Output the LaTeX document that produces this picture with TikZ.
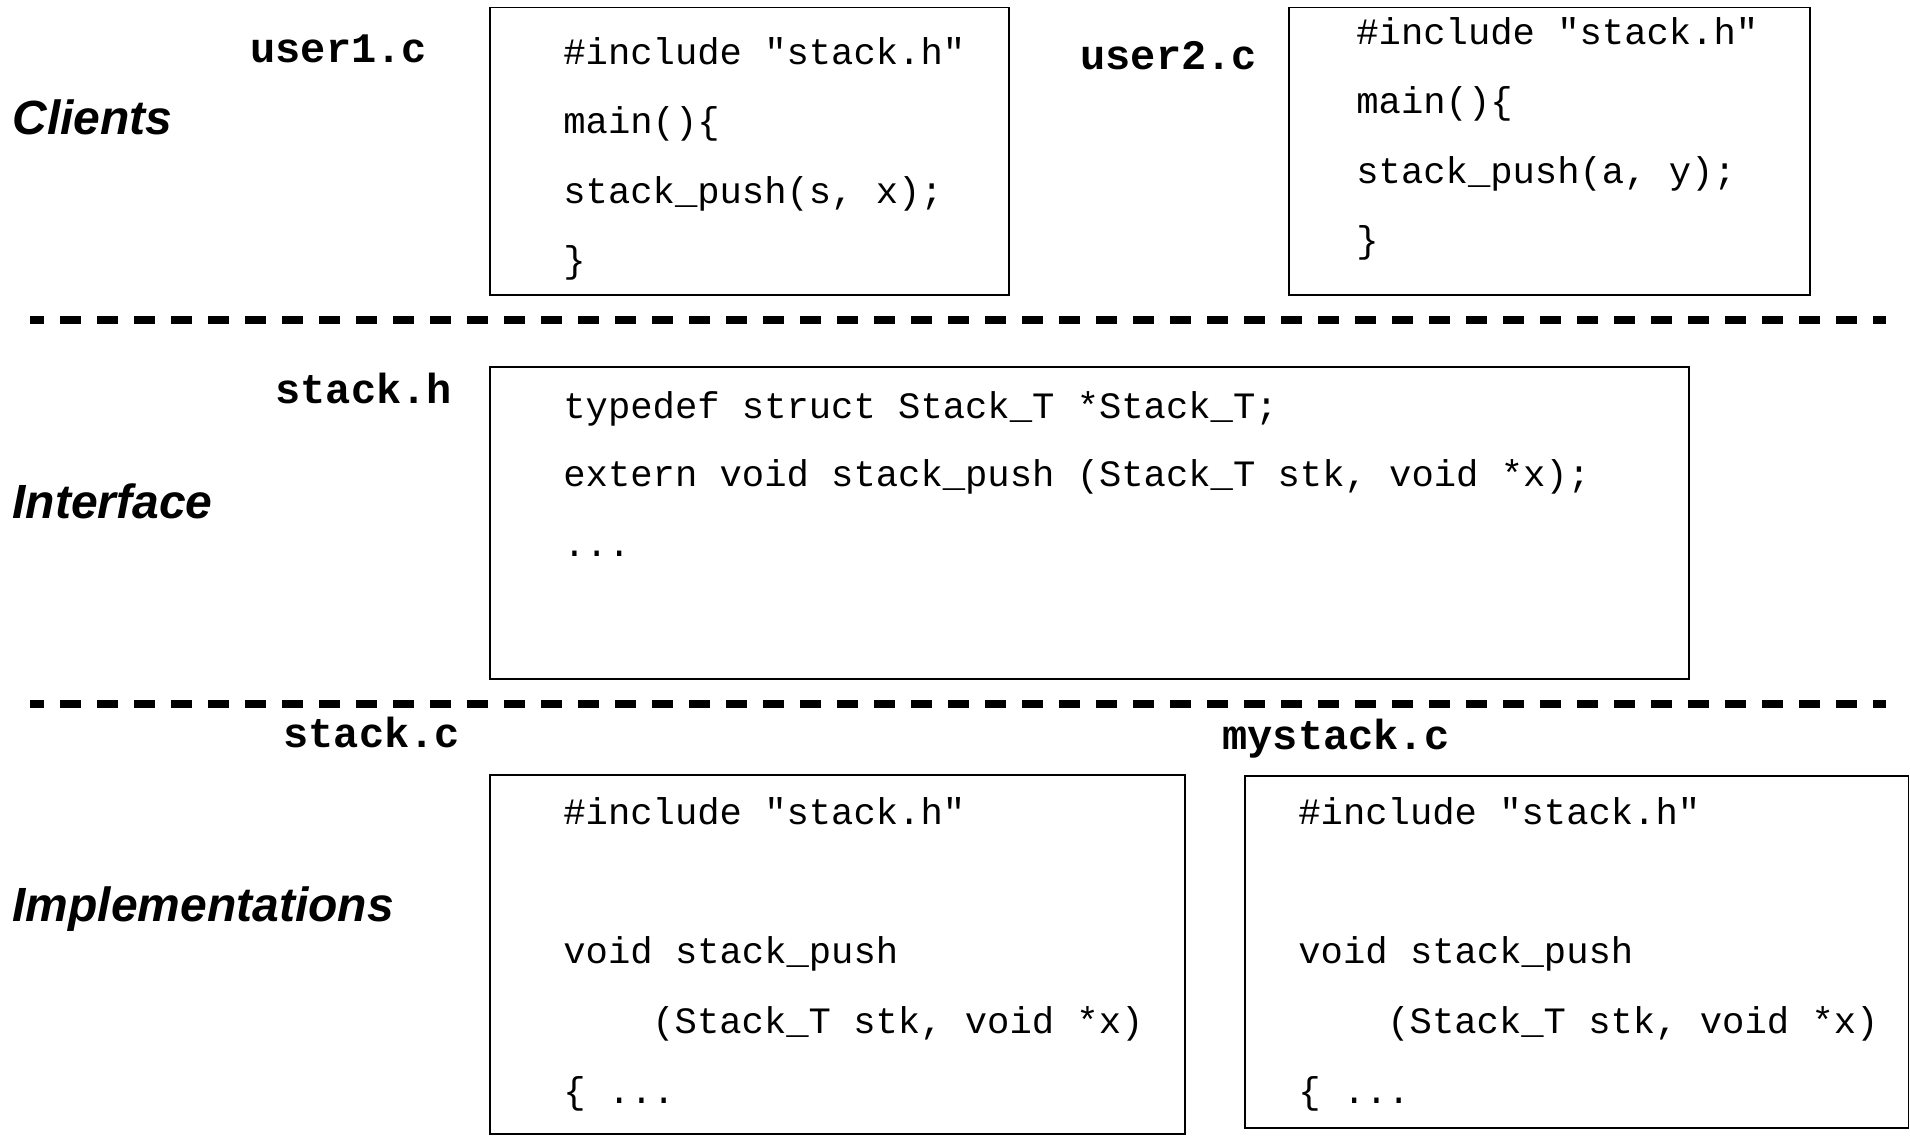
\documentclass[tikz,border=0pt]{standalone}
\usepackage{fontspec}
\newfontfamily\codefont{Liberation Mono}
\newfontfamily\layerfont{Liberation Sans}
\begin{document}
\begin{tikzpicture}[x=0.5pt,y=-0.5pt,
  code/.style={anchor=base west, inner sep=0pt, font=\codefont\fontsize{18.6}{20}\selectfont},
  fname/.style={anchor=base west, inner sep=0pt, font=\codefont\bfseries\fontsize{21}{24}\selectfont},
  layer/.style={anchor=base west, inner sep=0pt, font=\layerfont\bfseries\itshape\fontsize{24}{28}\selectfont},
  box/.style={draw, line width=0.7pt},
  sepline/.style={line width=4pt, dash pattern=on 10.5pt off 8pt, dash phase=3.5pt}]
\useasboundingbox (0,0) rectangle (1910,1135);

% boxes
\draw[box] (490,7.3) rectangle (1009,295);
\draw[box] (1289,7.3) rectangle (1810,295);
\draw[box] (490,367) rectangle (1689,679);
\draw[box] (490,775) rectangle (1185,1134);
\draw[box] (1245,776) rectangle (1908.5,1128);

% separators
\coordinate (s1l) at (30,320);
\coordinate (s1r) at (1886,320);
\coordinate (s2l) at (30,704);
\coordinate (s2r) at (1886,704);
\draw[sepline] (s1l) -- (s1r);
\draw[sepline] (s2l) -- (s2r);

% layer names
\node[layer] (clients) at (12,134) {Clients};
\node[layer] (iface) at (12,518) {Interface};
\node[layer] (impls) at (12,921) {Implementations};

% file names
\node[fname] (u1) at (250,62) {user1.c};
\node[fname] (u2) at (1080,69) {user2.c};
\node[fname] (sh) at (275,403) {stack.h};
\node[fname] (sc) at (283,747) {stack.c};
\node[fname] (msc) at (1222,749) {mystack.c};

% user1.c
\node[code] (a1) at (563,64) {\#include "stack.h"};
\node[code] (a2) at (563,133.5) {main()\{};
\node[code] (a3) at (563,203) {stack\_push(s, x);};
\node[code] (a4) at (563,272.5) {\}};

% user2.c
\node[code] (b1) at (1356,44) {\#include "stack.h"};
\node[code] (b2) at (1356,113) {main()\{};
\node[code] (b3) at (1356,183) {stack\_push(a, y);};
\node[code] (b4) at (1356,252) {\}};

% stack.h
\node[code] (c1) at (563,418) {typedef struct Stack\_T *Stack\_T;};
\node[code] (c2) at (563,486) {extern void stack\_push (Stack\_T stk, void *x);};
\node[code] (c3) at (563,556) {...};

% stack.c
\node[code] (d1) at (563,824) {\#include "stack.h"};
\node[code] (d2) at (563,963) {void stack\_push};
\node[code] (d3) at (652,1033) {(Stack\_T stk, void *x)};
\node[code] (d4) at (563,1103) {\{ ...};

% mystack.c
\node[code] (e1) at (1298,824) {\#include "stack.h"};
\node[code] (e2) at (1298,963) {void stack\_push};
\node[code] (e3) at (1387,1033) {(Stack\_T stk, void *x)};
\node[code] (e4) at (1298,1103) {\{ ...};
\end{tikzpicture}
\end{document}
